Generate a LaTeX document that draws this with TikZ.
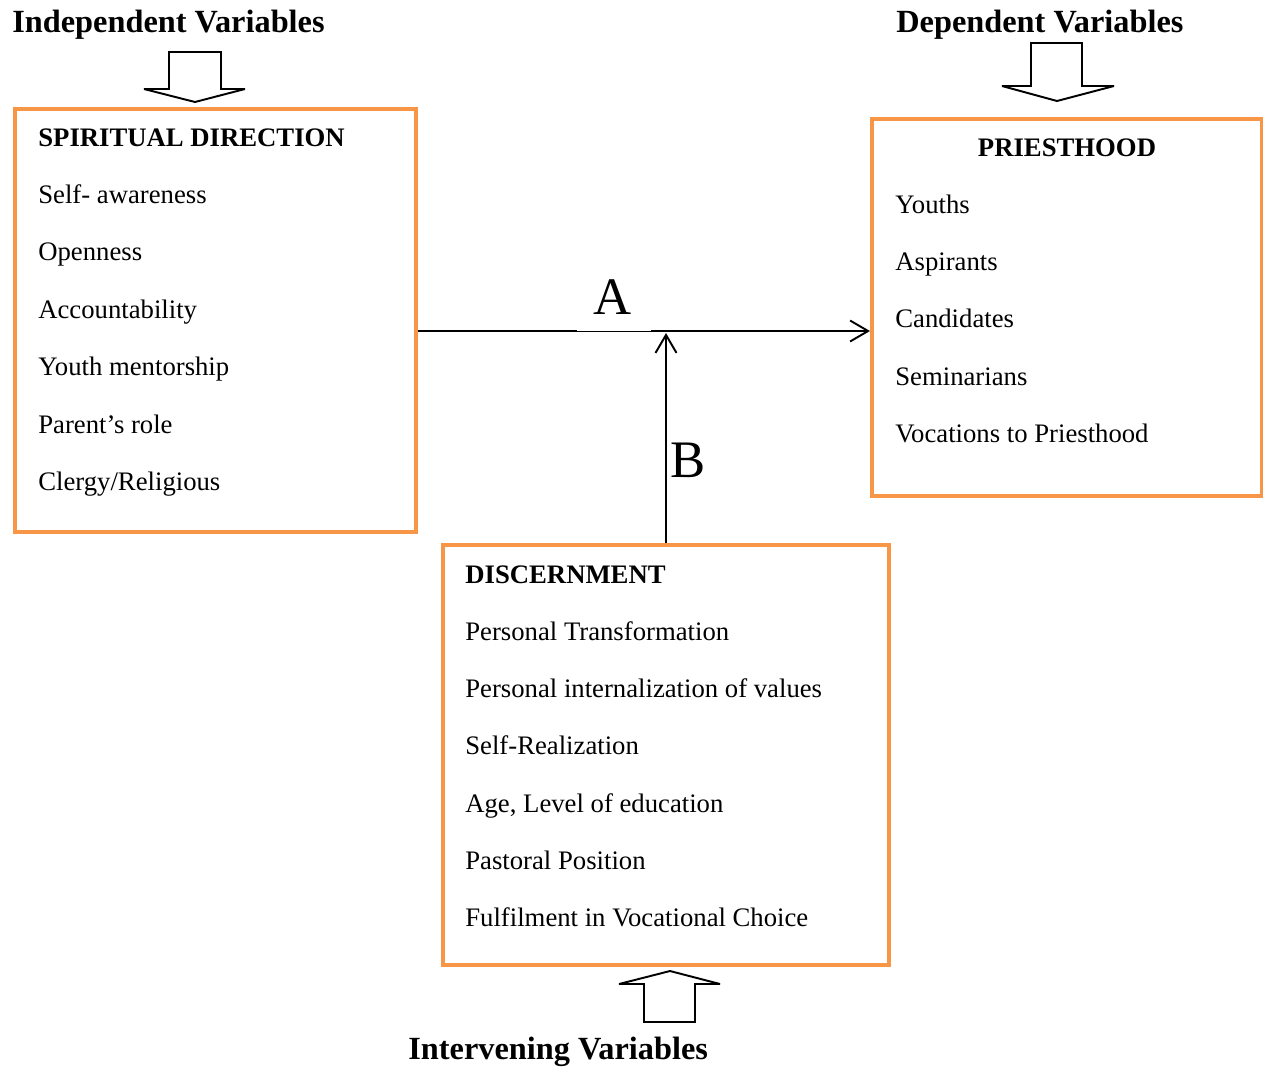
\documentclass[tikz,border=0pt]{standalone}
\usepackage{fontspec}
\setmainfont{Liberation Serif}
\usetikzlibrary{positioning,fit,arrows.meta}
\definecolor{boxorange}{HTML}{F79646}

\begin{document}
\begin{tikzpicture}[x=0.02cm, y=-0.02cm]
    \tikzstyle{frame} = [draw=boxorange, line width=0.08cm, inner sep=0pt]
    \tikzstyle{item} = [anchor=base west, inner sep=0pt, font=\fontsize{15.2}{18}\selectfont]
    \tikzstyle{head} = [item, font=\fontsize{15.2}{18}\selectfont\bfseries]
    \tikzstyle{vartitle} = [anchor=base west, inner sep=0pt, font=\fontsize{18.4}{22}\selectfont\bfseries]
    \tikzstyle{big} = [anchor=base west, inner sep=0pt, font=\fontsize{30}{34}\selectfont]
    \tikzstyle{line} = [draw, line width=1.1pt, -{Straight Barb[length=0.36cm, width=0.42cm, line width=1.1pt]}]
    \tikzstyle{fat} = [draw, line width=1.1pt, fill=white, line join=miter, miter limit=2]

    \useasboundingbox (0,0) rectangle (1263,1069);

    % titles
    \node [vartitle] (indep) at (12,32) {Independent Variables};
    \node [vartitle] (dep) at (896,32) {Dependent Variables};
    \node [vartitle] (inter) at (408,1059) {Intervening Variables};

    % boxes
    \node [frame, fit={(15,109) (416,532)}] (spirit) {};
    \node [frame, fit={(872,119) (1262,496)}] (priest) {};
    \node [frame, fit={(443,545) (889,965)}] (discern) {};

    % spiritual direction
    \node [head] (sd0) at (38,146) {SPIRITUAL DIRECTION};
    \foreach \t [count=\i] in {Self- awareness, Openness, Accountability, Youth mentorship, Parent’s role, Clergy/Religious}
        \node [item] (sd\i) at (38,146+57.4*\i) {\t};

    % priesthood
    \node [head, anchor=base] (pr0) at (1067,156) {PRIESTHOOD};
    \foreach \t [count=\i] in {Youths, Aspirants, Candidates, Seminarians, Vocations to Priesthood}
        \node [item] (pr\i) at (895,156+57.3*\i) {\t};

    % discernment
    \node [head] (di0) at (465,583) {DISCERNMENT};
    \foreach \t [count=\i] in {Personal Transformation, Personal internalization of values, Self-Realization, {Age, Level of education}, Pastoral Position, Fulfilment in Vocational Choice}
        \node [item] (di\i) at (465,583+57.3*\i) {\t};

    % block arrows
    \draw [fat] (169,52) -- (221,52) -- (221,89) -- (245,89) -- (195,102) -- (144,89) -- (169,89) -- cycle;
    \draw [fat] (1031,43) -- (1082,43) -- (1082,86) -- (1114,86) -- (1057,101) -- (1002,86) -- (1031,86) -- cycle;
    \draw [fat] (644,1022) -- (695,1022) -- (695,984) -- (720,984) -- (670,971) -- (619,984) -- (644,984) -- cycle;

    % connectors
    \node [big, anchor=base] (labA) at (613,314) {A};
    \coordinate (aL) at (577,331);
    \coordinate (aR) at (651,331);
    \coordinate (meet) at (666,333);
    \draw [line width=1.1pt] (spirit.east |- aL) -- (aL);
    \draw [line width=0.4pt] (aL) -- (aR);
    \path [line] (aR) -- (priest.west |- aR);
    \path [line] (discern.north) -- (meet);
    \node [big] (labB) at (670,477) {B};
\end{tikzpicture}
\end{document}
